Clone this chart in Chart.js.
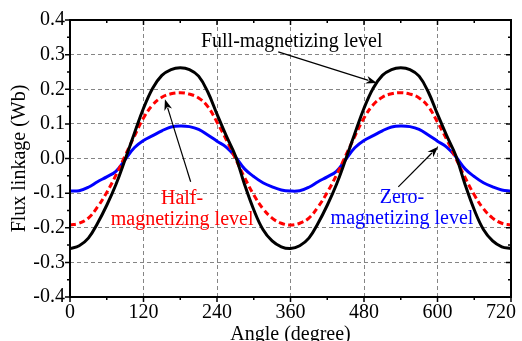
<!DOCTYPE html>
<html>
<head>
<meta charset="utf-8">
<script src="https://cdn.jsdelivr.net/npm/chart.js@4.4.1/dist/chart.umd.min.js"></script>
<style>
  html, body { margin: 0; padding: 0; background: #fff; }
</style>
</head>
<body>
<canvas id="fluxChart" width="522" height="341"></canvas>
<script>
// angle in degrees, one point every 15 degrees
const angles = [0, 15, 30, 45, 60, 75, 90, 105, 120, 135, 150, 165, 180, 195, 210, 225, 240, 255, 270, 285, 300, 315, 330, 345,
  360, 375, 390, 405, 420, 435, 450, 465, 480, 495, 510, 525, 540, 555, 570, 585, 600, 615, 630, 645, 660, 675, 690, 705, 720];

const fullLevel = [-0.260, -0.252, -0.230, -0.187, -0.135, -0.075, -0.003, 0.072, 0.145, 0.203, 0.240, 0.257, 0.262, 0.257, 0.238, 0.192, 0.128, 0.066, 0.008, -0.075, -0.148, -0.205, -0.238, -0.255,
  -0.260, -0.252, -0.230, -0.187, -0.135, -0.075, -0.003, 0.072, 0.145, 0.203, 0.240, 0.257, 0.262, 0.257, 0.238, 0.192, 0.128, 0.066, 0.008, -0.075, -0.148, -0.205, -0.238, -0.255, -0.260];

const halfLevel = [-0.192, -0.187, -0.172, -0.140, -0.098, -0.048, 0.008, 0.064, 0.117, 0.155, 0.177, 0.187, 0.190, 0.186, 0.175, 0.150, 0.105, 0.055, 0.000, -0.055, -0.105, -0.145, -0.172, -0.187,
  -0.192, -0.187, -0.172, -0.140, -0.098, -0.048, 0.008, 0.064, 0.117, 0.155, 0.177, 0.187, 0.190, 0.186, 0.175, 0.150, 0.105, 0.055, 0.000, -0.055, -0.105, -0.145, -0.172, -0.187, -0.192];

const zeroLevel = [-0.094, -0.093, -0.083, -0.067, -0.053, -0.037, -0.003, 0.031, 0.052, 0.066, 0.080, 0.091, 0.094, 0.092, 0.084, 0.068, 0.050, 0.033, 0.005, -0.030, -0.052, -0.070, -0.082, -0.091,
  -0.094, -0.093, -0.083, -0.067, -0.053, -0.037, -0.003, 0.031, 0.052, 0.066, 0.080, 0.091, 0.094, 0.092, 0.084, 0.068, 0.050, 0.033, 0.005, -0.030, -0.052, -0.070, -0.082, -0.091, -0.094];

const xTicks = [0, 120, 240, 360, 480, 600, 720];
const xMinor = [60, 180, 300, 420, 540, 660];
const yTicks = [-0.4, -0.3, -0.2, -0.1, 0, 0.1, 0.2, 0.3, 0.4];
const yMinor = [-0.35, -0.25, -0.15, -0.05, 0.05, 0.15, 0.25, 0.35];

const serif = "'Liberation Serif', 'Times New Roman', serif";

// text + arrows, placed in data units (angle, Wb)
const notes = [
  { lines: ['Full-magnetizing level'], x: 362, y: 0.337, color: '#000000', arrow: [340, 0.308, 501, 0.218] },
  { lines: ['Half-', 'magnetizing level'], x: 183, y: -0.115, color: '#ff0000', arrow: [197, -0.067, 155, 0.171] },
  { lines: ['Zero-', 'magnetizing level'], x: 542, y: -0.113, color: '#0000ff', arrow: [536, -0.082, 601, 0.034] }
];

const pts = vals => angles.map((a, i) => ({ x: a, y: vals[i] }));

const frameTicks = {
  id: 'frameTicks',
  afterDatasetsDraw(chart) {
    const { ctx, chartArea: a, scales: { x, y } } = chart;
    ctx.save();
    ctx.strokeStyle = '#000';
    ctx.lineWidth = 1.5;
    ctx.beginPath();
    // ticks all point down / left: outside on bottom & left, inside on top & right
    const tick = (px, len, vertical) => {
      if (vertical) {
        ctx.moveTo(px, a.bottom); ctx.lineTo(px, a.bottom + len);
        ctx.moveTo(px, a.top); ctx.lineTo(px, a.top + len);
      } else {
        ctx.moveTo(a.left, px); ctx.lineTo(a.left - len, px);
        ctx.moveTo(a.right, px); ctx.lineTo(a.right - len, px);
      }
    };
    xTicks.forEach(v => tick(x.getPixelForValue(v), 5, true));
    xMinor.forEach(v => tick(x.getPixelForValue(v), 3, true));
    yTicks.forEach(v => tick(y.getPixelForValue(v), 5, false));
    yMinor.forEach(v => tick(y.getPixelForValue(v), 3, false));
    ctx.stroke();
    ctx.lineWidth = 2;
    ctx.strokeRect(a.left, a.top, a.right - a.left, a.bottom - a.top);

    // annotations
    ctx.font = '20px ' + serif;
    ctx.textAlign = 'center';
    ctx.textBaseline = 'middle';
    notes.forEach(n => {
      ctx.fillStyle = n.color;
      const cx = x.getPixelForValue(n.x);
      const cy = y.getPixelForValue(n.y);
      n.lines.forEach((t, i) => ctx.fillText(t, cx, cy + i * 21));

      const [x0, y0, x1, y1] = n.arrow;
      const ax = x.getPixelForValue(x0), ay = y.getPixelForValue(y0);
      const bx = x.getPixelForValue(x1), by = y.getPixelForValue(y1);
      const ang = Math.atan2(by - ay, bx - ax);
      const hl = 11, hw = 4;
      ctx.strokeStyle = '#000';
      ctx.fillStyle = '#000';
      ctx.lineWidth = 1.2;
      ctx.beginPath();
      ctx.moveTo(ax, ay);
      ctx.lineTo(bx - Math.cos(ang) * hl * 0.8, by - Math.sin(ang) * hl * 0.8);
      ctx.stroke();
      ctx.beginPath();
      ctx.moveTo(bx, by);
      ctx.lineTo(bx - Math.cos(ang) * hl - Math.sin(ang) * hw, by - Math.sin(ang) * hl + Math.cos(ang) * hw);
      ctx.lineTo(bx - Math.cos(ang) * hl * 0.7, by - Math.sin(ang) * hl * 0.7);
      ctx.lineTo(bx - Math.cos(ang) * hl + Math.sin(ang) * hw, by - Math.sin(ang) * hl - Math.cos(ang) * hw);
      ctx.closePath();
      ctx.fill();
    });
    ctx.restore();
  }
};

new Chart(document.getElementById('fluxChart'), {
  type: 'line',
  data: {
    datasets: [
      { label: 'Full', data: pts(fullLevel), borderColor: '#000000', borderWidth: 3 },
      { label: 'Half', data: pts(halfLevel), borderColor: '#ff0000', borderWidth: 3, borderDash: [6, 3.5] },
      { label: 'Zero', data: pts(zeroLevel), borderColor: '#0000ff', borderWidth: 3 }
    ]
  },
  options: {
    responsive: false,
    animation: false,
    devicePixelRatio: 1,
    elements: { point: { radius: 0 }, line: { fill: false, tension: 0.4 } },
    layout: { padding: { left: 0, right: 11, top: 20, bottom: 0 } },
    plugins: { legend: { display: false }, tooltip: { enabled: false } },
    scales: {
      x: {
        type: 'linear', min: 0, max: 720,
        afterBuildTicks: s => { s.ticks = xTicks.map(v => ({ value: v })); },
        afterFit: s => { s.height = 44; s.paddingLeft = 0; s.paddingRight = 0; },
        ticks: { color: '#000', font: { family: serif, size: 20 }, padding: 4, maxRotation: 0,
          // last label nudged left so it stays inside the canvas
          callback: v => (v === 720 ? v + '\u2002\u2002' : String(v)) },
        grid: { color: '#858585', lineWidth: 1, drawTicks: false },
        border: { display: false, dash: [4, 3] },
        title: { display: true, text: 'Angle (degree)', color: '#000', font: { family: serif, size: 20 }, padding: { top: 0, bottom: -6 } }
      },
      y: {
        min: -0.4, max: 0.4,
        afterBuildTicks: s => { s.ticks = yTicks.map(v => ({ value: v })); },
        afterFit: s => { s.width = 70; },
        ticks: { color: '#000', font: { family: serif, size: 20 }, padding: 5,
          callback: v => (Math.abs(v) < 1e-9 ? 0 : v).toFixed(1) },
        grid: { color: '#858585', lineWidth: 1, drawTicks: false },
        border: { display: false, dash: [4, 3] },
        title: { display: true, text: 'Flux linkage (Wb)', color: '#000', font: { family: serif, size: 20 }, padding: { top: 8, bottom: 0 } }
      }
    }
  },
  plugins: [frameTicks]
});
</script>
</body>
</html>
